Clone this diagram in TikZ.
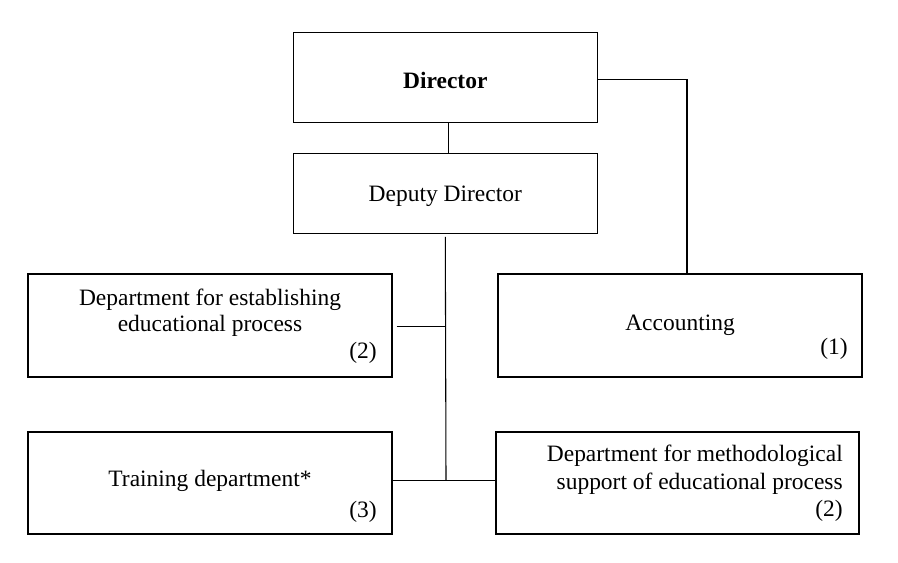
\documentclass[tikz,border=0pt]{standalone}
\usepackage{fontspec}
\setmainfont{Liberation Serif}
\usetikzlibrary{positioning,calc}

\tikzset{
    box/.style={draw, line width=0.8pt, rectangle, inner sep=0pt},
    boxtext/.style={font=\fontsize{17.6}{20}\selectfont, align=center, inner sep=0pt},
    boxnum/.style={font=\fontsize{17.6}{20}\selectfont, inner sep=0pt},
    link/.style={line width=0.8pt}
}

\begin{document}
\begin{tikzpicture}[x=0.75pt,y=-0.75pt]

    % --- Frame ---
    % Fixing the picture size to the original image
    \useasboundingbox (0,0) rectangle (898,563);

    % --- Boxes ---
    % Top of the hierarchy
    \node[box, minimum width=228pt, minimum height=67.8pt] (dir) at (445.3,77.5) {};
    \node[box, minimum width=228pt, minimum height=60.3pt] (dep) at (445.3,193.5) {};

    % Departments
    \node[box, minimum width=273pt, minimum height=77.25pt] (estab) at (210,325.5) {};
    \node[box, minimum width=273pt, minimum height=77.25pt] (acc) at (680,325.5) {};
    \node[box, minimum width=273pt, minimum height=76.5pt] (train) at (210,483) {};
    \node[box, minimum width=272.25pt, minimum height=76.5pt] (meth) at (677.5,483) {};

    % --- Coordinates ---
    % Bottom end of the vertical line under the deputy
    \coordinate (spine) at (446,480);

    % --- Connectors ---
    \draw[link] ([xshift=2.5pt]dir.south) -- ([xshift=2.5pt]dep.north);
    \draw[link] ([yshift=-1.3pt]dir.east) -| ([xshift=5.25pt]acc.north);
    \draw[link] ([yshift=-2pt]dep.south) -- (spine);
    \draw[link] ([xshift=3pt,yshift=-1pt]estab.east) -- ([yshift=-1pt]estab.east -| spine);
    \draw[link] ([yshift=2.2pt]train.east) -- ([yshift=2.2pt]meth.west);

    % --- Labels ---
    \node[boxtext, font=\fontsize{17.6}{20}\selectfont\bfseries] (dirT) at (445.3,80) {Director};
    \node[boxtext] (depT) at (445.3,196) {Deputy Director};
    \node[boxtext, font=\fontsize{17.6}{19.5}\selectfont] (estabT) at (210,313) {Department for establishing\\educational process};
    \node[boxnum] (estabN) at (363,353) {(2)};
    \node[boxtext] (accT) at (680,325) {Accounting};
    \node[boxnum] (accN) at (834,349) {(1)};
    \node[boxtext] (trainT) at (210,481) {Training department*};
    \node[boxnum] (trainN) at (363,512) {(3)};
    \node[boxtext, align=right, anchor=east, font=\fontsize{17.6}{20.6}\selectfont] (methT) at (843,483.5) {Department for methodological\\support of educational process\\(2)};

\end{tikzpicture}
\end{document}
